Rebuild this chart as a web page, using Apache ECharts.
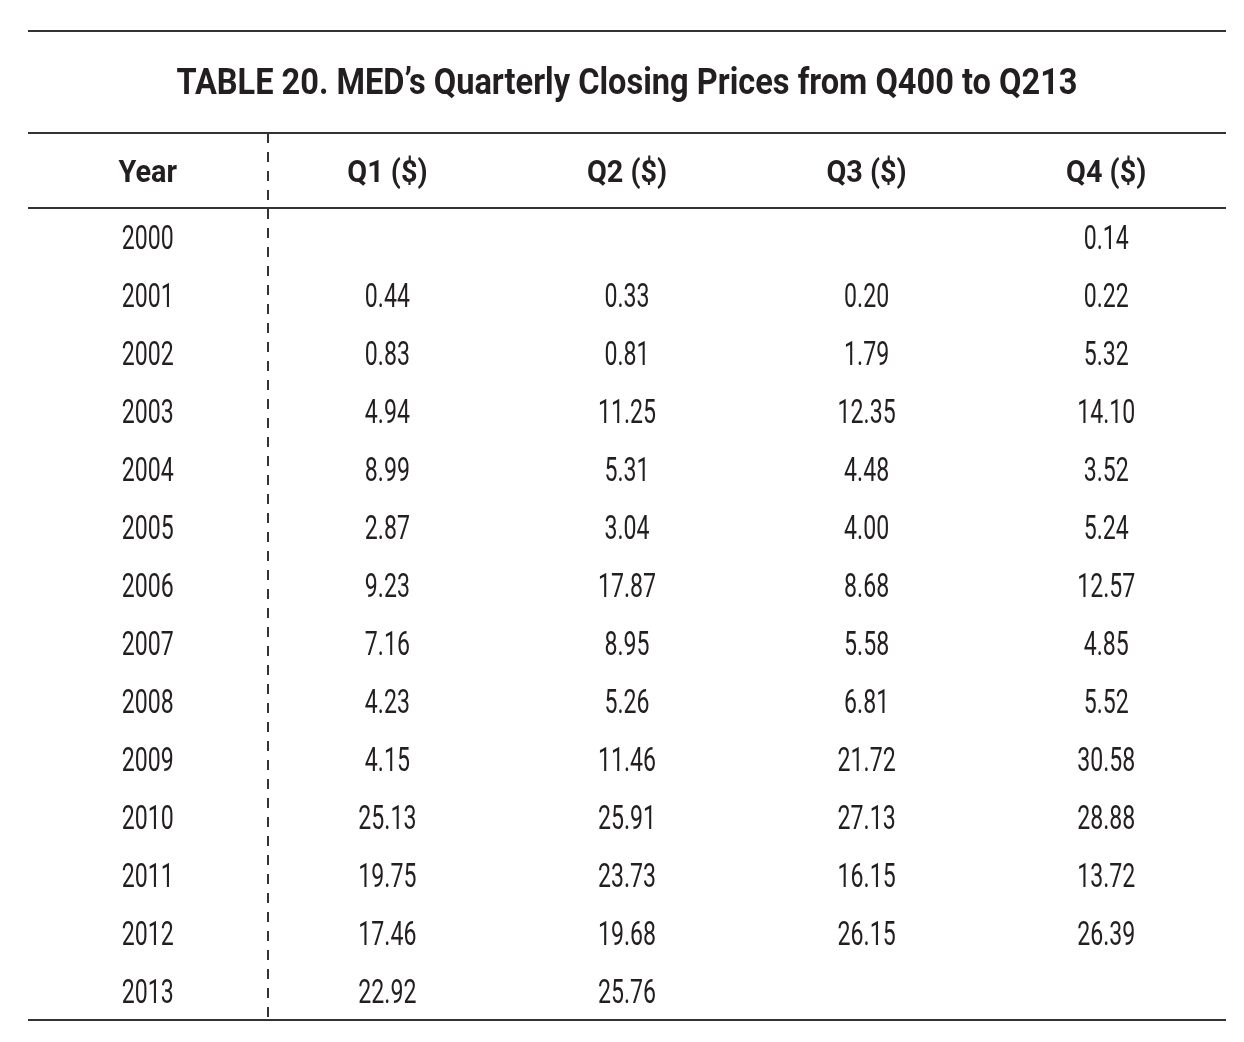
<!DOCTYPE html>
<html>
<head>
<meta charset="utf-8">
<script src="https://cdn.jsdelivr.net/npm/echarts@6/dist/echarts.min.js"></script>
<style>html,body{margin:0;padding:0;background:#fff}#main{width:1244px;height:1042px}</style>
</head>
<body>
<div id="main"></div>
<script>
var titleText = "TABLE 20. MED\u2019s Quarterly Closing Prices from Q400 to Q213";
var columns = ["Year", "Q1 ($)", "Q2 ($)", "Q3 ($)", "Q4 ($)"];
var years = ["2000","2001","2002","2003","2004","2005","2006","2007","2008","2009","2010","2011","2012","2013"];
var q1 = [null,"0.44","0.83","4.94","8.99","2.87","9.23","7.16","4.23","4.15","25.13","19.75","17.46","22.92"];
var q2 = [null,"0.33","0.81","11.25","5.31","3.04","17.87","8.95","5.26","11.46","25.91","23.73","19.68","25.76"];
var q3 = [null,"0.20","1.79","12.35","4.48","4.00","8.68","5.58","6.81","21.72","27.13","16.15","26.15",null];
var q4 = ["0.14","0.22","5.32","14.10","3.52","5.24","12.57","4.85","5.52","30.58","28.88","13.72","26.39",null];

var FONT = "Roboto, 'Noto Sans', sans-serif";
var TXT = "#231f20";
var LINE = "#333333";

var chart = echarts.init(document.getElementById('main'), null, {renderer: 'canvas'});

function textSeries(xi, yi, colName, rowCats, vals, font, sx, dy) {
  var data = [], texts = [];
  vals.forEach(function (v, i) {
    if (v !== null) { data.push([colName, rowCats[i]]); texts.push(v); }
  });
  return {
    type: 'custom', xAxisIndex: xi, yAxisIndex: yi, silent: true, data: data,
    renderItem: function (params, api) {
      var p = api.coord([api.value(0), api.value(1)]);
      return {
        type: 'text', x: p[0], y: p[1] + dy, scaleX: sx, scaleY: 1,
        style: {text: texts[params.dataIndex], font: font, fill: TXT,
          textAlign: 'center', textVerticalAlign: 'middle'}
      };
    }
  };
}

var BODY_FONT = "normal 400 34px " + FONT;
var HEAD_FONT = "normal 700 32px " + FONT;

var option = {
  animation: false,
  grid: [
    {left: 28, right: 18, top: 133, height: 75},
    {left: 28, right: 18, top: 208, height: 812}
  ],
  xAxis: [
    {type: 'category', gridIndex: 0, data: columns, show: false},
    {type: 'category', gridIndex: 1, data: columns, show: false}
  ],
  yAxis: [
    {type: 'category', gridIndex: 0, data: ['h'], show: false},
    {type: 'category', gridIndex: 1, data: years, inverse: true, show: false}
  ],
  graphic: [
    {type: 'line', shape: {x1: 28, y1: 31, x2: 1226, y2: 31}, style: {stroke: LINE, lineWidth: 2}},
    {type: 'line', shape: {x1: 28, y1: 133, x2: 1226, y2: 133}, style: {stroke: LINE, lineWidth: 2}},
    {type: 'line', shape: {x1: 28, y1: 208, x2: 1226, y2: 208}, style: {stroke: LINE, lineWidth: 2}},
    {type: 'line', shape: {x1: 28, y1: 1020, x2: 1226, y2: 1020}, style: {stroke: LINE, lineWidth: 2}},
    {type: 'line', shape: {x1: 268, y1: 133, x2: 268, y2: 1020}, style: {stroke: LINE, lineWidth: 2, lineDash: [10, 9]}},
    {type: 'text', x: 627, y: 85, scaleX: 0.88, scaleY: 1,
      style: {text: titleText, font: "normal 700 37px " + FONT, fill: TXT, textAlign: 'center', textVerticalAlign: 'middle'}}
  ],
  series: []
};
columns.forEach(function (c) {
  option.series.push(textSeries(0, 0, c, ['h'], [c], HEAD_FONT, 0.9, 3));
});
option.series.push(textSeries(1, 1, columns[0], years, years, BODY_FONT, 0.68, 3));
option.series.push(textSeries(1, 1, columns[1], years, q1, BODY_FONT, 0.68, 3));
option.series.push(textSeries(1, 1, columns[2], years, q2, BODY_FONT, 0.68, 3));
option.series.push(textSeries(1, 1, columns[3], years, q3, BODY_FONT, 0.68, 3));
option.series.push(textSeries(1, 1, columns[4], years, q4, BODY_FONT, 0.68, 3));
chart.setOption(option);
</script>
</body>
</html>
